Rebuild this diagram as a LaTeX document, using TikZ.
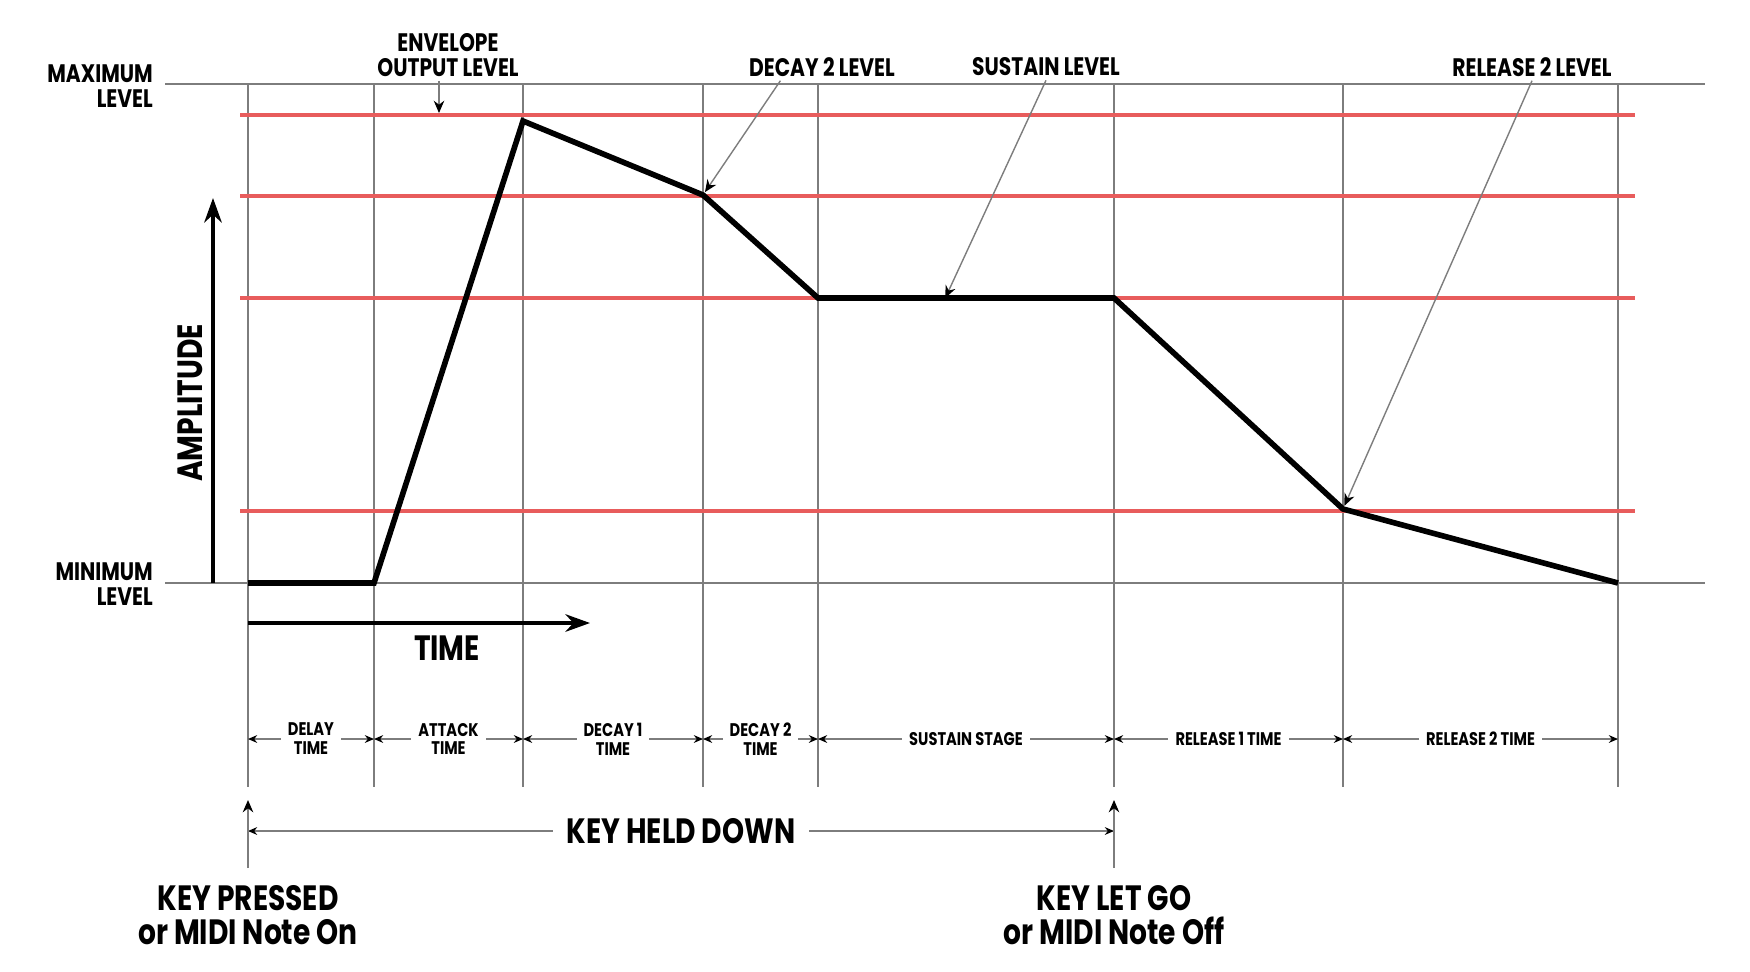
\documentclass[tikz,border=0pt]{standalone}
\usepackage{fontspec}
\newfontfamily\envfont[FakeStretch=0.8]{Poppins}
\usetikzlibrary{arrows.meta,calc}
\definecolor{lvlred}{RGB}{232,92,92}
\definecolor{gridgray}{RGB}{125,125,125}

\tikzset{
  gridline/.style={gridgray,line width=0.55pt},
  lvlline/.style={lvlred,line width=1pt},
  envline/.style={black,line width=1.6pt,line join=miter},
  bigarrow/.style={black,line width=1pt,-{Stealth[length=7pt,width=5pt]}},
  pointer/.style={gridgray,line width=0.4pt,-{Stealth[length=3.5pt,width=3pt,color=black]}},
  dimline/.style={gridgray,line width=0.5pt,{Stealth[length=2.6pt,width=2.2pt,color=black]}-{Stealth[length=2.6pt,width=2.2pt,color=black]}},
  biglabel/.style={font=\envfont\bfseries\fontsize{10}{9.7}\selectfont,align=center,inner sep=1pt,text=black},
  midlabel/.style={font=\envfont\bfseries\fontsize{7.2}{7.1}\selectfont,inner sep=1pt,text=black},
  smalllabel/.style={font=\envfont\bfseries\fontsize{5.2}{5.4}\selectfont,align=center,fill=white,inner sep=2pt,text=black},
}

\begin{document}
\begin{tikzpicture}[x=0.1mm,y=-0.1mm]
\useasboundingbox (0,0) rectangle (1750,971);

% maximum and minimum level
\coordinate (maxW) at (165,84);  \coordinate (maxE) at (1705,84);
\coordinate (minW) at (165,583); \coordinate (minE) at (1705,583);
\draw[gridline] (maxW) -- (maxE);
\draw[gridline] (minW) -- (minE);

% stage boundaries
\foreach \n/\x in {0/248, 1/374, 2/523, 3/703, 4/818, 5/1114, 6/1343, 7/1618} {
  \coordinate (top\n) at (\x,84);
  \coordinate (bot\n) at (\x,787);
  \coordinate (dim\n) at (\x,739);
  \draw[gridline] (top\n) -- (bot\n);
}

% envelope levels
\foreach \n/\y in {a/115, b/196, c/298, d/511} {
  \coordinate (lvl\n-w) at (240,\y);
  \coordinate (lvl\n-e) at (1635,\y);
  \draw[lvlline] (lvl\n-w) -- (lvl\n-e);
}

% envelope
\coordinate (e0) at (248,583);
\coordinate (e1) at (374,583);
\coordinate (e2) at (523,121);
\coordinate (e3) at (703,195);
\coordinate (e4) at (818,298);
\coordinate (e5) at (1114,298);
\coordinate (e6) at (1343,509);
\coordinate (e7) at (1618,583);
\draw[envline] (e0) -- (e1) -- (e2) -- (e3) -- (e4) -- (e5) -- (e6) -- (e7);

% level labels
\node[midlabel,align=right,anchor=east] (maxlbl) at (157,86) {MAXIMUM\\LEVEL};
\node[midlabel,align=right,anchor=east] (minlbl) at (157,584) {MINIMUM\\LEVEL};
\node[midlabel,align=center] (envlbl) at (448,55) {ENVELOPE\\OUTPUT LEVEL};
\node[midlabel] (dec2lbl) at (822,67) {DECAY 2 LEVEL};
\node[midlabel] (suslbl) at (1046,67) {SUSTAIN LEVEL};
\node[midlabel] (rel2lbl) at (1532,67) {RELEASE 2 LEVEL};

\coordinate (envtip) at (439,113);
\draw[pointer] (envlbl.south -| envtip) -- (envtip);
\draw[pointer,shorten >=1pt] ($(dec2lbl.south west)!.23!(dec2lbl.south east)$) -- (e3);
\draw[pointer] (suslbl.south) -- ($(e4)!.43!(e5)$);
\draw[pointer,shorten >=1pt] (rel2lbl.south) -- (e6);

% axes
\coordinate (amp0) at (213,583); \coordinate (amp1) at (213,198);
\draw[bigarrow] (amp0) -- (amp1);
\node[biglabel,rotate=90] (amplbl) at (190,403) {AMPLITUDE};
\coordinate (time0) at (248,623); \coordinate (time1) at (590,623);
\draw[bigarrow] (time0) -- (time1);
\node[biglabel] (timelbl) at (447,648) {TIME};

% stage times
\foreach \a/\b/\txt in {0/1/{DELAY\\TIME}, 1/2/{ATTACK\\TIME}, 2/3/{DECAY 1\\TIME},
    3/4/{DECAY 2\\TIME}, 4/5/{SUSTAIN STAGE}, 5/6/{RELEASE 1 TIME}, 6/7/{RELEASE 2 TIME}}
  \draw[dimline] (dim\a) -- (dim\b) node[smalllabel,midway] {\txt};

% key held down
\coordinate (held0) at (248,831); \coordinate (held1) at (1114,831);
\draw[dimline] (held0) -- (held1)
  node[biglabel,midway,fill=white,inner sep=4pt] (heldlbl) {KEY HELD DOWN};
\coordinate (press0) at (248,868); \coordinate (press1) at (248,800);
\coordinate (letgo0) at (1114,868); \coordinate (letgo1) at (1114,800);
\draw[pointer] (press0) -- (press1);
\draw[pointer] (letgo0) -- (letgo1);
\node[biglabel] (presslbl) at (248,915) {KEY PRESSED\\or MIDI Note On};
\node[biglabel] (letgolbl) at (1114,915) {KEY LET GO\\or MIDI Note Off};
\end{tikzpicture}
\end{document}
